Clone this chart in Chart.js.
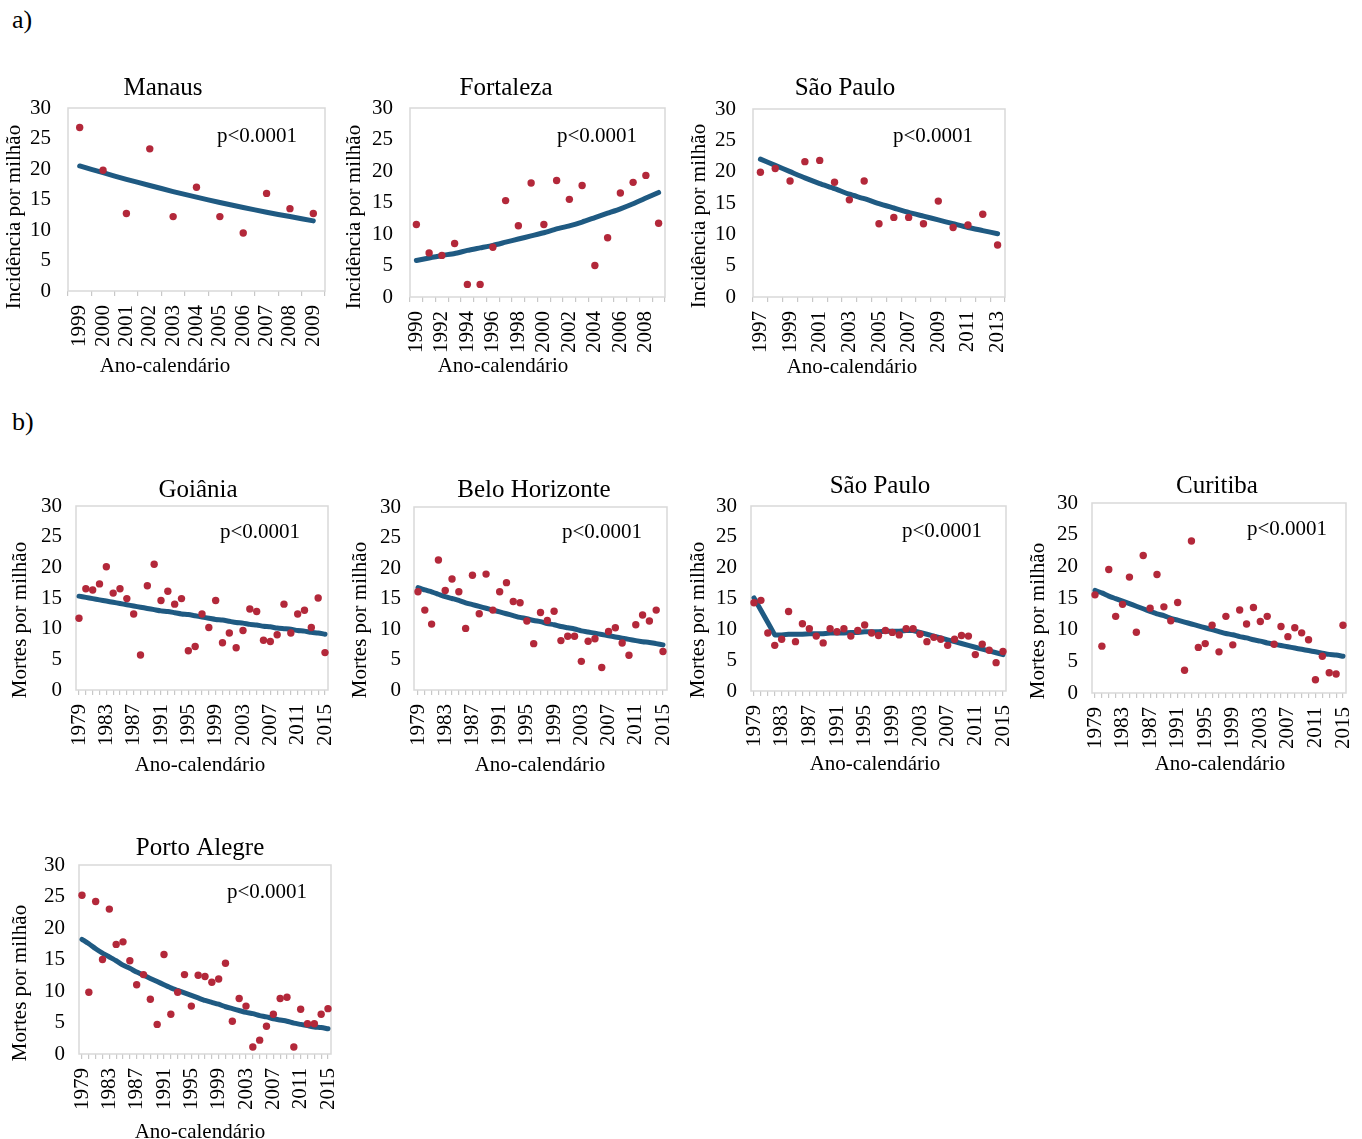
<!DOCTYPE html>
<html>
<head>
<meta charset="utf-8">
<script src="https://cdn.jsdelivr.net/npm/chart.js@4/dist/chart.umd.min.js"></script>
<style>
  html, body { margin: 0; padding: 0; background: #fff; width: 1362px; height: 1139px; overflow: hidden; position: relative; }
  canvas { position: absolute; }
  .part { position: absolute; font-family: 'Liberation Serif', 'Times New Roman', serif; font-size: 26px; line-height: 1; color: #000; }
</style>
</head>
<body>
<div class="part" style="left:12px;top:7px">a)</div>
<div class="part" style="left:12px;top:409px">b)</div>
<script>
// ---- a) Incidência por milhão ----
const manausYears = [1999, 2000, 2001, 2002, 2003, 2004, 2005, 2006, 2007, 2008, 2009];
const manausRate  = [26.8, 19.8, 12.7, 23.3, 12.2, 17.0, 12.2, 9.5, 16.0, 13.5, 12.7];
const manausTrend = [20.5, 19.4, 18.3, 17.3, 16.3, 15.4, 14.5, 13.7, 12.9, 12.2, 11.5];

const fortalezaYears = [1990, 1991, 1992, 1993, 1994, 1995, 1996, 1997, 1998, 1999,
                        2000, 2001, 2002, 2003, 2004, 2005, 2006, 2007, 2008, 2009];
const fortalezaRate  = [11.5, 7.0, 6.6, 8.5, 2.0, 2.0, 7.9, 15.3, 11.3, 18.1,
                        11.5, 18.5, 15.5, 17.7, 5.0, 9.4, 16.5, 18.2, 19.3, 11.7];
const fortalezaTrend = [5.8, 6.2, 6.6, 6.9, 7.4, 7.8, 8.2, 8.7, 9.2, 9.7,
                        10.2, 10.8, 11.3, 11.9, 12.6, 13.3, 14.0, 14.8, 15.7, 16.6];

const spIncYears = [1997, 1998, 1999, 2000, 2001, 2002, 2003, 2004, 2005,
                    2006, 2007, 2008, 2009, 2010, 2011, 2012, 2013];
const spIncRate  = [19.9, 20.5, 18.5, 21.6, 21.8, 18.3, 15.5, 18.5, 11.7,
                    12.7, 12.7, 11.7, 15.3, 11.1, 11.5, 13.2, 8.3];
const spIncTrend = [22.0, 21.0, 20.0, 19.0, 18.1, 17.3, 16.4, 15.7, 14.9,
                    14.2, 13.5, 12.9, 12.3, 11.7, 11.1, 10.6, 10.1];

// ---- b) Mortes por milhão ----
const mortYears = [1979, 1980, 1981, 1982, 1983, 1984, 1985, 1986, 1987, 1988,
                   1989, 1990, 1991, 1992, 1993, 1994, 1995, 1996, 1997, 1998,
                   1999, 2000, 2001, 2002, 2003, 2004, 2005, 2006, 2007, 2008,
                   2009, 2010, 2011, 2012, 2013, 2014, 2015];

const goianiaRate  = [11.7, 16.5, 16.3, 17.3, 20.1, 15.8, 16.5, 14.9, 12.4, 5.7,
                      17.0, 20.5, 14.6, 16.1, 14.0, 14.9, 6.4, 7.1, 12.4, 10.2,
                      14.6, 7.7, 9.3, 6.9, 9.7, 13.2, 12.8, 8.1, 7.9, 9.0,
                      14.0, 9.3, 12.4, 13.0, 10.2, 15.0, 6.1];
const goianiaTrend = [15.3, 15.1, 14.9, 14.7, 14.5, 14.3, 14.1, 13.9, 13.7, 13.5,
                      13.3, 13.1, 12.9, 12.8, 12.6, 12.4, 12.3, 12.1, 11.9, 11.7,
                      11.5, 11.4, 11.2, 11.0, 10.9, 10.7, 10.6, 10.4, 10.3, 10.1,
                      10.0, 9.9, 9.7, 9.6, 9.4, 9.3, 9.1];

const bhRate  = [16.1, 13.1, 10.8, 21.3, 16.3, 18.2, 16.1, 10.1, 18.8, 12.5,
                 19.0, 13.1, 16.1, 17.6, 14.5, 14.3, 11.3, 7.6, 12.7, 11.4,
                 12.9, 8.1, 8.8, 8.8, 4.7, 8.0, 8.4, 3.7, 9.6, 10.2,
                 7.7, 5.7, 10.7, 12.3, 11.3, 13.1, 6.3];
const bhTrend = [16.8, 16.4, 16.1, 15.7, 15.3, 15.0, 14.7, 14.3, 14.0, 13.7,
                 13.4, 13.1, 12.8, 12.5, 12.2, 11.9, 11.7, 11.4, 11.2, 10.9,
                 10.7, 10.4, 10.2, 10.0, 9.7, 9.5, 9.3, 9.1, 8.9, 8.7,
                 8.5, 8.3, 8.1, 7.9, 7.8, 7.6, 7.4];

const spMortRate  = [14.3, 14.7, 9.4, 7.4, 8.4, 12.9, 8.0, 10.9, 10.1, 8.9,
                     7.8, 10.1, 9.6, 10.1, 8.9, 9.8, 10.7, 9.4, 9.0, 9.8,
                     9.5, 9.1, 10.1, 10.1, 9.2, 8.0, 8.7, 8.4, 7.4, 8.4,
                     9.0, 8.9, 5.9, 7.6, 6.6, 4.6, 6.4];
const spMortTrend = [15.1, 13.1, 11.1, 9.1, 9.1, 9.2, 9.2, 9.2, 9.3, 9.3,
                     9.3, 9.4, 9.4, 9.4, 9.5, 9.5, 9.6, 9.6, 9.6, 9.7,
                     9.7, 9.7, 9.8, 9.8, 9.5, 9.2, 8.9, 8.6, 8.3, 8.0,
                     7.7, 7.4, 7.1, 6.8, 6.5, 6.2, 5.9];

const curitibaRate  = [15.5, 7.4, 19.5, 12.1, 14.0, 18.3, 9.6, 21.7, 13.4, 18.7,
                       13.6, 11.4, 14.3, 3.6, 24.0, 7.2, 7.8, 10.7, 6.5, 12.1,
                       7.6, 13.1, 10.9, 13.5, 11.3, 12.1, 7.7, 10.5, 8.9, 10.3,
                       9.5, 8.4, 2.1, 5.8, 3.2, 3.0, 10.7];
const curitibaTrend = [16.2, 15.8, 15.3, 14.9, 14.5, 14.1, 13.7, 13.3, 12.9, 12.5,
                       12.2, 11.8, 11.5, 11.2, 10.9, 10.6, 10.3, 10.0, 9.7, 9.4,
                       9.2, 8.9, 8.7, 8.4, 8.2, 7.9, 7.7, 7.5, 7.3, 7.1,
                       6.9, 6.7, 6.5, 6.3, 6.1, 6.0, 5.8];

const portoAlegreRate  = [25.2, 9.8, 24.2, 15.0, 23.0, 17.4, 17.8, 14.8, 11.0, 12.6,
                          8.7, 4.7, 15.8, 6.3, 9.8, 12.6, 7.6, 12.5, 12.3, 11.4,
                          11.9, 14.4, 5.2, 8.8, 7.6, 1.1, 2.2, 4.4, 6.3, 8.8,
                          9.0, 1.1, 7.1, 4.8, 4.8, 6.3, 7.2];
const portoAlegreTrend = [18.2, 17.5, 16.7, 16.0, 15.4, 14.8, 14.1, 13.6, 13.0, 12.5,
                          12.0, 11.5, 11.0, 10.5, 10.1, 9.7, 9.3, 8.9, 8.5, 8.2,
                          7.9, 7.5, 7.2, 6.9, 6.6, 6.4, 6.1, 5.9, 5.6, 5.4,
                          5.2, 4.9, 4.7, 4.5, 4.3, 4.2, 4.0];

const pLabel = 'p<0.0001';
const xAxisTitle = 'Ano-calendário';
const yIncTitle = 'Incidência por milhão';
const yMortTitle = 'Mortes por milhão';

// Page layout of each panel: plot rectangle [left, top, right, bottom] and text anchors.
const panels = [
  { title: 'Manaus', years: manausYears, rate: manausRate, trend: manausTrend, yTitle: yIncTitle,
    step: 1, offset: true, tension: 0.2, frameDx: 0,
    plot: [68, 108, 325, 291], titleAt: [163, 95], pAt: [217, 142], yTitleAt: [14, 217], xTitleAt: [165, 372] },
  { title: 'Fortaleza', years: fortalezaYears, rate: fortalezaRate, trend: fortalezaTrend, yTitle: yIncTitle,
    step: 2, offset: true, tension: 0.2, frameDx: 0,
    plot: [410, 108, 665, 297], titleAt: [506, 95], pAt: [557, 142], yTitleAt: [354, 217], xTitleAt: [503, 372] },
  { title: 'São Paulo', years: spIncYears, rate: spIncRate, trend: spIncTrend, yTitle: yIncTitle,
    step: 2, offset: true, tension: 0.2, frameDx: 0,
    plot: [753, 109, 1005, 297], titleAt: [845, 95], pAt: [893, 142], yTitleAt: [699, 216], xTitleAt: [852, 373] },
  { title: 'Goiânia', years: mortYears, rate: goianiaRate, trend: goianiaTrend, yTitle: yMortTitle,
    step: 4, offset: false, tension: 0.2, frameDx: 3,
    plot: [79, 506, 325, 690], titleAt: [198, 497], pAt: [220, 538], yTitleAt: [20, 620], xTitleAt: [200, 771] },
  { title: 'Belo Horizonte', years: mortYears, rate: bhRate, trend: bhTrend, yTitle: yMortTitle,
    step: 4, offset: false, tension: 0.2, frameDx: 4,
    plot: [418, 507, 663, 690], titleAt: [534, 497], pAt: [562, 538], yTitleAt: [360, 620], xTitleAt: [540, 771] },
  { title: 'São Paulo', years: mortYears, rate: spMortRate, trend: spMortTrend, yTitle: yMortTitle,
    step: 4, offset: false, tension: 0, frameDx: 3,
    plot: [754, 506, 1003, 691], titleAt: [880, 493], pAt: [902, 537], yTitleAt: [698, 620], xTitleAt: [875, 770] },
  { title: 'Curitiba', years: mortYears, rate: curitibaRate, trend: curitibaTrend, yTitle: yMortTitle,
    step: 4, offset: false, tension: 0.2, frameDx: 3,
    plot: [1095, 503, 1343, 693], titleAt: [1217, 493], pAt: [1247, 535], yTitleAt: [1038, 621], xTitleAt: [1220, 770] },
  { title: 'Porto Alegre', years: mortYears, rate: portoAlegreRate, trend: portoAlegreTrend, yTitle: yMortTitle,
    step: 4, offset: false, tension: 0.2, frameDx: 3,
    plot: [82, 865, 328, 1054], titleAt: [200, 855], pAt: [227, 898], yTitleAt: [20, 983], xTitleAt: [200, 1138] }
];

const SERIF = "'Liberation Serif', 'Times New Roman', serif";
const DOT = '#B3283A';
const TREND = '#1F5A82';
const FRAME = '#d9d9d9';
const Y_BOX = 75, TOP_PAD = 60, RIGHT_PAD = 15, X_BOX = 95;

Chart.defaults.font.family = SERIF;
Chart.defaults.color = '#000';

// Plot frame, panel title, p-value note and axis titles.
const panelDecor = {
  id: 'panelDecor',
  beforeDatasetsDraw(chart, args, o) {
    const { ctx, chartArea: a } = chart;
    ctx.save();
    ctx.strokeStyle = FRAME;
    ctx.lineWidth = 1.5;
    ctx.strokeRect(a.left - o.frameDx, a.top, a.right - a.left + 2 * o.frameDx, a.bottom - a.top);
    ctx.restore();
  },
  afterDraw(chart, args, o) {
    const ctx = chart.ctx;
    ctx.save();
    ctx.fillStyle = '#000';
    ctx.textBaseline = 'alphabetic';
    ctx.font = '25px ' + SERIF;
    ctx.textAlign = 'center';
    ctx.fillText(o.title, o.titleAt[0] - o.ox, o.titleAt[1] - o.oy);
    ctx.font = '21px ' + SERIF;
    ctx.textAlign = 'left';
    ctx.fillText(pLabel, o.pAt[0] - o.ox, o.pAt[1] - o.oy);
    ctx.textAlign = 'center';
    ctx.fillText(xAxisTitle, o.xTitleAt[0] - o.ox, o.xTitleAt[1] - o.oy);
    ctx.translate(o.yTitleAt[0] - o.ox, o.yTitleAt[1] - o.oy);
    ctx.rotate(-Math.PI / 2);
    ctx.textBaseline = 'middle';
    ctx.fillText(o.yTitle, 0, 0);
    ctx.restore();
  }
};

panels.forEach(p => {
  const [L, T, R, B] = p.plot;
  const ox = L - Y_BOX, oy = T - TOP_PAD;
  const canvas = document.createElement('canvas');
  canvas.width = R - L + Y_BOX + RIGHT_PAD;
  canvas.height = B - T + TOP_PAD + X_BOX;
  canvas.style.left = ox + 'px';
  canvas.style.top = oy + 'px';
  document.body.appendChild(canvas);

  new Chart(canvas, {
    type: 'line',
    data: {
      labels: p.years.map(String),
      datasets: [
        { data: p.rate, showLine: false, pointRadius: 3.7, pointHoverRadius: 3.7,
          pointBackgroundColor: DOT, pointBorderWidth: 0, order: 0, clip: false },
        { data: p.trend, borderColor: TREND, borderWidth: 5, pointRadius: 0,
          tension: p.tension, borderCapStyle: 'round', borderJoinStyle: 'round', order: 1, clip: false }
      ]
    },
    options: {
      responsive: false,
      animation: false,
      devicePixelRatio: 1,
      events: [],
      layout: { padding: { left: 0, top: TOP_PAD, right: RIGHT_PAD, bottom: 0 } },
      plugins: {
        legend: { display: false },
        tooltip: { enabled: false },
        panelDecor: { ...p, ox, oy }
      },
      scales: {
        x: {
          type: 'category',
          offset: p.offset,
          grid: { offset: p.offset, drawOnChartArea: false, drawTicks: true, tickLength: 5,
                  color: '#c8c8c8', lineWidth: 1.2 },
          border: { display: false },
          ticks: {
            autoSkip: false, minRotation: 90, maxRotation: 90, padding: 9,
            font: { size: 21, family: SERIF }, color: '#000',
            callback: (v, i) => (i % p.step === 0 ? p.years[i] : '')
          },
          afterFit: s => { s.height = X_BOX; s.paddingLeft = 0; s.paddingRight = 0; }
        },
        y: {
          min: 0, max: 30,
          grid: { display: false, drawTicks: false },
          border: { display: false },
          ticks: { stepSize: 5, padding: 17, font: { size: 21, family: SERIF }, color: '#000' },
          afterFit: s => { s.width = Y_BOX; s.paddingTop = 0; s.paddingBottom = 0; }
        }
      }
    },
    plugins: [panelDecor]
  });
});
</script>
</body>
</html>
